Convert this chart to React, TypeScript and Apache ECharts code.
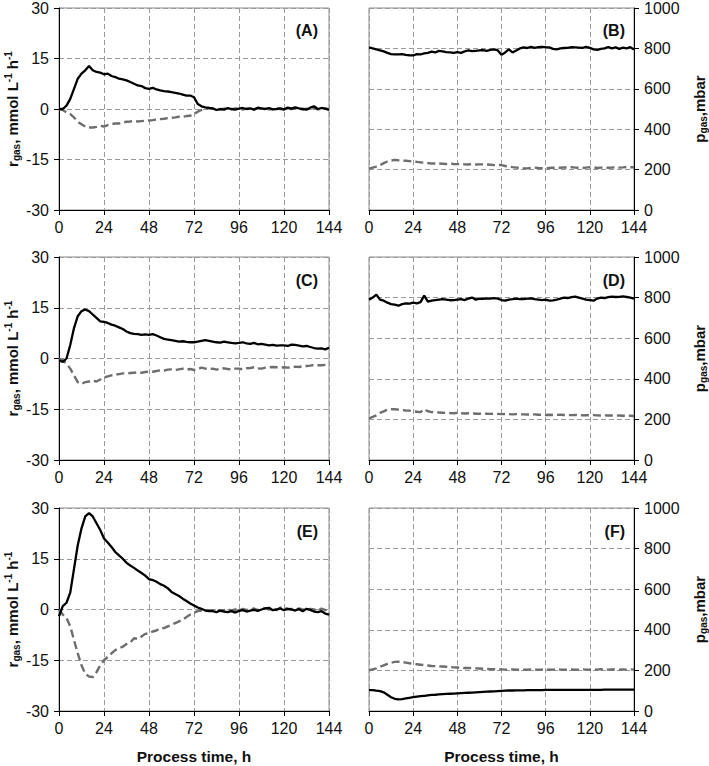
import React, { useEffect, useRef } from "react";
import * as echarts from "echarts";

// time axis samples (h), every 2 h from 0 to 144
const hours: number[] = Array.from({ length: 73 }, (_, i) => i * 2);
const xTicks = [0, 24, 48, 72, 96, 120, 144];
const panelLabels = ["(A)", "(B)", "(C)", "(D)", "(E)", "(F)"];

// r_gas, mmol L-1 h-1 (solid = first gas, dashed = second gas)
const aSolid = [
  0, 0, 1, 3, 6, 9, 10.5, 11.5, 12.8, 11.5,
  11, 10.8, 10.3, 10.5, 9.8, 9.5, 9, 8.8, 8.5, 8,
  7.5, 7, 6.8, 6.2, 6, 6.3, 5.8, 5.5, 5.3, 5.2,
  5, 4.8, 4.6, 4.3, 4, 4, 3.5, 1.5, 0.8, 0.5,
  0.3, 0.2, -0.3, 0, -0.2, 0.3, 0, -0.2, 0.1, 0.3,
  0, 0.2, -0.2, 0.4, 0.2, 0, 0.3, -0.1, 0, 0.2,
  -0.1, 0.4, 0.1, 0.5, 0.2, 0, -0.2, 0.4, 0.8, 0,
  0.3, 0.1, -0.3,
];
const aDashed = [
  0, -0.3, -1, -1.5, -2.5, -3.8, -4.5, -5.2, -5.5, -5.5,
  -5.3, -5, -5.2, -4.8, -4.5, -4.3, -4.3, -4, -3.8, -3.7,
  -3.5, -3.7, -3.6, -3.5, -3.4, -3.3, -3.1, -3, -2.9, -2.7,
  -2.6, -2.5, -2.3, -2.3, -2.1, -2, -1.5, -0.8, -0.3, 0,
  0.3, 0.1, 0, -0.2, 0.1, 0, -0.1, 0.2, 0, -0.2,
  0.1, 0, -0.1, 0.2, 0, 0.1, -0.1, 0, 0.2, 0,
  -0.2, 0.1, 0, 0.2, 0, -0.1, 0.1, 0, 0.2, -0.1,
  0, 0.1, 0,
];
const cSolid = [
  -0.5, -1, 0, 4, 9, 12.5, 14, 14.5, 14, 13,
  12, 11, 10.8, 10.5, 10, 9.7, 9.2, 8.7, 8, 7.5,
  7.3, 7.2, 7, 7.1, 7, 7.2, 6.8, 6.3, 5.8, 5.6,
  5.4, 5.2, 5, 5.1, 4.9, 4.8, 4.8, 5, 5.2, 5.4,
  5.2, 5, 4.8, 4.7, 5, 4.8, 4.6, 4.5, 4.6, 4.8,
  4.5, 4.3, 4.6, 4.2, 4.3, 4.1, 3.9, 4, 3.8, 3.9,
  3.9, 3.7, 4.1, 4, 3.8, 3.6, 3.7, 3.4, 3.1, 2.9,
  3, 2.7, 3.2,
];
const cDashed = [
  0, -0.5, -1.5, -3, -5, -7, -7.5, -7, -6.8, -6.5,
  -6.8, -6.2, -5.6, -5.3, -5, -4.8, -4.6, -4.4, -4.4, -4.3,
  -4.2, -4.1, -4.2, -4, -3.9, -3.9, -3.7, -3.5, -3.6, -3.3,
  -3.2, -3.4, -3.2, -3, -3.3, -3.1, -3.4, -3.2, -2.7, -3,
  -3.1, -3, -3.3, -3, -2.9, -3.1, -3.2, -3, -3, -3.2,
  -2.9, -2.8, -2.6, -2.9, -3, -2.7, -2.6, -2.5, -2.6, -2.7,
  -2.6, -2.7, -2.6, -2.4, -2.5, -2.3, -2.2, -2.1, -1.9, -2,
  -2, -1.9, -1.8,
];
const eSolid = [
  -2, 1, 2, 5, 12, 19, 24, 27.5, 28.5, 27.5,
  25.5, 23.5, 21, 19.8, 18.5, 17, 16, 15, 13.8, 13,
  12.3, 11.5, 10.8, 10, 9, 8.7, 8.2, 7.5, 7, 6.3,
  5.2, 4.6, 4, 3.2, 2.5, 1.8, 1.2, 0.6, 0.2, -0.3,
  -0.5, -0.5, -0.8, -0.3, -0.6, -0.8, -0.5, -0.9, -0.4, -0.2,
  -0.6, -0.3, -0.1, -0.4, 0, 0.3, 0.5, -0.2, 0, 0.3,
  -0.2, 0.2, 0, -0.3, 0.1, -0.5, 0.2, -0.1, -0.6, -0.8,
  -0.5, -1.2, -1.5,
];
const eDashed = [
  0, -1.5, -2.5, -5, -9, -13, -16.5, -19, -19.8, -20,
  -18.5, -16.5, -15, -14, -13, -12, -11.5, -11, -10.2, -9.8,
  -8.5, -8.7, -8, -7.2, -7, -6.5, -6.2, -5.5, -5.5, -5,
  -4.5, -4, -3.5, -3, -2.2, -1.5, -1, -0.5, -0.3, -0.5,
  -0.2, -0.3, 0, -0.5, -0.2, 0.1, -0.3, 0, -0.4, 0.2,
  -0.1, 0, 0.3, -0.2, 0.1, 0.4, 0, 0.2, -0.2, 0.5,
  0.8, 0.1, 0.2, -0.1, 0.3, 0, -0.3, 0.2, 0, -0.4,
  0.3, -0.2, 0.1,
];

// p_gas, mbar
const bSolid = [
  805, 800, 795, 790, 785, 778, 772, 770, 770, 772,
  768, 766, 765, 772, 770, 775, 778, 784, 780, 788,
  785, 782, 780, 778, 782, 778, 785, 790, 786, 788,
  790, 792, 788, 793, 795, 790, 768, 780, 795, 780,
  790, 800, 805, 802, 808, 803, 806, 808, 806, 805,
  798, 795, 800, 802, 803, 806, 805, 804, 803, 808,
  803, 795, 793, 798, 800, 806, 800, 805, 798, 804,
  800, 806, 795,
];
const bDashed = [
  205, 210, 215, 222, 232, 240, 245, 248, 246, 245,
  244, 242, 240, 238, 236, 234, 232, 230, 230, 230,
  229, 228, 230, 228, 227, 228, 226, 225, 228, 225,
  226, 226, 225, 224, 222, 223, 222, 218, 215, 212,
  210, 209, 207, 206, 208, 210, 208, 207, 206, 208,
  209, 210, 209, 211, 210, 212, 210, 209, 208, 210,
  212, 211, 208, 210, 211, 209, 210, 212, 210, 211,
  213, 212, 212,
];
const dSolid = [
  790, 800, 815, 790, 785, 775, 768, 765, 760, 768,
  772, 770, 775, 772, 778, 810, 780, 785, 788, 790,
  792, 790, 787, 788, 790, 792, 788, 795, 800, 790,
  795, 794, 796, 795, 797, 795, 788, 785, 790, 792,
  795, 793, 792, 795, 796, 792, 790, 788, 790, 785,
  786, 790, 795, 800, 798, 802, 805, 800, 795, 790,
  788, 785, 795, 800, 798, 802, 805, 803, 804, 806,
  803, 800, 795,
];
const dDashed = [
  205, 212, 220, 232, 240, 248, 250, 250, 248, 246,
  244, 243, 240, 238, 236, 250, 240, 236, 235, 234,
  233, 232, 231, 230, 232, 230, 229, 230, 231, 228,
  228, 229, 228, 227, 228, 227, 226, 227, 226, 225,
  226, 225, 225, 224, 224, 225, 223, 223, 222, 223,
  222, 222, 223, 222, 221, 221, 222, 221, 220, 221,
  220, 221, 220, 219, 220, 219, 219, 218, 219, 218,
  218, 218, 217,
];
const fSolid = [
  103, 103, 100, 98, 92, 80, 68, 60, 57, 58,
  62, 65, 68, 71, 73, 75, 77, 79, 80, 82,
  83, 84, 85, 86, 87, 88, 89, 90, 91, 92,
  93, 94, 95, 96, 97, 98, 99, 100, 101, 101,
  102, 102, 102, 103, 103, 103, 103, 103, 104, 104,
  104, 104, 104, 104, 104, 104, 104, 104, 104, 104,
  104, 104, 104, 104, 105, 105, 105, 105, 105, 105,
  105, 105, 105,
];
const fDashed = [
  200, 205, 210, 218, 225, 232, 238, 242, 243, 241,
  238, 235, 232, 230, 228, 226, 224, 222, 221, 220,
  219, 218, 217, 215, 214, 213, 212, 212, 211, 210,
  209, 208, 207, 206, 206, 205, 205, 204, 203, 205,
  204, 203, 204, 203, 205, 204, 203, 204, 205, 203,
  204, 205, 204, 203, 204, 205, 203, 204, 205, 204,
  203, 205, 204, 206, 203, 204, 205, 204, 203, 205,
  204, 205, 204,
];

const solids = [aSolid, bSolid, cSolid, dSolid, eSolid, fSolid];
const dashes = [aDashed, bDashed, cDashed, dDashed, eDashed, fDashed];

const FONT = "'Liberation Sans Narrow', 'Arial Narrow', 'Liberation Sans', Arial, sans-serif";
const BOLD = "'Liberation Sans', Arial, sans-serif";

export default function App() {
  const ref = useRef<HTMLDivElement>(null);
  useEffect(() => {
    document.body.style.margin = "0";
    const chart = echarts.init(ref.current!, null, { renderer: "svg" });
    const lefts = [59, 369];
    const widths = [270, 267];
    const tops = [7, 257, 508];
    const gh = 203;
    const grids: any[] = [];
    const xAxes: any[] = [];
    const yAxes: any[] = [];
    const series: any[] = [];
    const graphics: any[] = [];
    const gridLine = { show: true, lineStyle: { color: "#9a9a9a", type: [5, 3], width: 1 } };
    for (let i = 0; i < 6; i++) {
      const col = i % 2;
      const row = Math.floor(i / 2);
      grids.push({
        left: lefts[col], top: tops[row], width: widths[col], height: gh,
        show: true, borderColor: "#8c8c8c", borderWidth: 1, backgroundColor: "transparent",
      });
      const last = row === 2;
      xAxes.push({
        type: "value", gridIndex: i, min: 0, max: 144, interval: 24,
        axisLine: { show: true, onZero: false, lineStyle: { color: "#000", width: 1 } },
        axisTick: { show: true, length: 5, lineStyle: { color: "#000" } },
        axisLabel: {
          fontSize: 16, color: "#111", fontFamily: FONT, margin: 9,
          formatter: (v: number) => (xTicks.includes(v) ? String(v) : ""),
        },
        splitLine: gridLine,
        name: last ? "Process time, h" : "",
        nameLocation: "middle", nameGap: 37,
        nameTextStyle: { fontSize: 15.5, fontWeight: "bold", color: "#111", fontFamily: BOLD },
      });
      if (col === 0) {
        yAxes.push({
          type: "value", gridIndex: i, min: -30, max: 30, interval: 15, position: "left",
          axisLine: { show: true, onZero: false, lineStyle: { color: "#000", width: 1 } },
          axisTick: { show: true, length: 5, lineStyle: { color: "#000" } },
          axisLabel: { fontSize: 16, color: "#111", fontFamily: FONT, margin: 10, formatter: (v: number) => String(v) },
          splitLine: gridLine,
          name: "{b|r}{s|gas}{b|, mmol L}{p|-1}{b| h}{p|-1}",
          nameLocation: "middle", nameRotate: 90, nameGap: 31,
          nameTextStyle: {
            fontFamily: BOLD,
            rich: {
              b: { fontSize: 15, fontWeight: "bold", color: "#111", fontFamily: BOLD, lineHeight: 18, verticalAlign: "middle" },
              s: { fontSize: 10, fontWeight: "bold", color: "#111", fontFamily: BOLD, lineHeight: 18, verticalAlign: "bottom", padding: [8, 0, 0, 0] },
              p: { fontSize: 10, fontWeight: "bold", color: "#111", fontFamily: BOLD, lineHeight: 18, verticalAlign: "top", padding: [0, 0, 8, 0] },
            },
          },
        });
      } else {
        yAxes.push({
          type: "value", gridIndex: i, min: 0, max: 1000, interval: 200, position: "right",
          axisLine: { show: true, onZero: false, lineStyle: { color: "#000", width: 1 } },
          axisTick: { show: true, length: 5, lineStyle: { color: "#000" } },
          axisLabel: { fontSize: 16, color: "#111", fontFamily: FONT, margin: 10, formatter: (v: number) => String(v) },
          splitLine: gridLine,
          name: "{b|p}{s|gas}{b|,mbar}",
          nameLocation: "middle", nameRotate: 90, nameGap: 56,
          nameTextStyle: {
            fontFamily: BOLD,
            rich: {
              b: { fontSize: 15, fontWeight: "bold", color: "#111", fontFamily: BOLD, lineHeight: 18, verticalAlign: "middle" },
              s: { fontSize: 10, fontWeight: "bold", color: "#111", fontFamily: BOLD, lineHeight: 18, verticalAlign: "bottom", padding: [8, 0, 0, 0] },
            },
          },
        });
      }
      series.push({
        type: "line", xAxisIndex: i, yAxisIndex: i, showSymbol: false, symbol: "none",
        data: hours.map((t, k) => [t, dashes[i][k]]),
        lineStyle: { color: "#6e6e6e", width: 2.4, type: [8, 4] },
        z: 2,
      });
      series.push({
        type: "line", xAxisIndex: i, yAxisIndex: i, showSymbol: false, symbol: "none",
        data: hours.map((t, k) => [t, solids[i][k]]),
        lineStyle: { color: "#000", width: 2.3 },
        z: 3,
      });
      graphics.push({
        type: "text",
        x: lefts[col] + widths[col] - 11,
        y: tops[row] + 23,
        style: {
          text: panelLabels[i], fontSize: 16, fontWeight: "bold", fill: "#111",
          fontFamily: BOLD, align: "right", verticalAlign: "middle",
        },
      });
    }
    chart.setOption({
      animation: false,
      backgroundColor: "#fff",
      grid: grids,
      xAxis: xAxes,
      yAxis: yAxes,
      series,
      graphic: graphics,
    });
    return () => chart.dispose();
  }, []);
  return <div ref={ref} style={{ width: 709, height: 766 }} />;
}
